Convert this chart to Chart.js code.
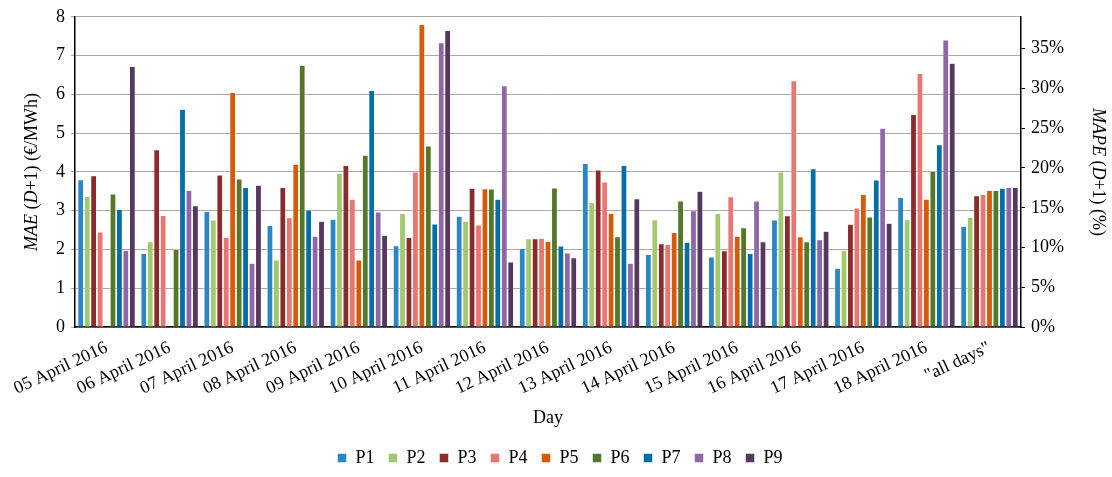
<!DOCTYPE html>
<html>
<head>
<meta charset="UTF-8">
<script src="https://cdn.jsdelivr.net/npm/chart.js"></script>
<style>
  body { margin: 0; background: #fff; }
  #wrap { width: 1112px; height: 477px; }
</style>
</head>
<body>
<div id="wrap"><canvas id="c"></canvas></div>
<script>
const days = ['05 April 2016','06 April 2016','07 April 2016','08 April 2016','09 April 2016','10 April 2016','11 April 2016','12 April 2016','13 April 2016','14 April 2016','15 April 2016','16 April 2016','17 April 2016','18 April 2016','"all days"'];
const P1 = [3.8,1.9,2.98,2.62,2.78,2.1,2.86,2.03,4.22,1.87,1.81,2.76,1.52,3.34,2.6];
const P2 = [3.37,2.2,2.76,1.73,3.97,2.93,2.73,2.28,3.21,2.77,2.93,4.0,1.98,2.77,2.83];
const P3 = [3.9,4.57,3.92,3.6,4.17,2.31,3.58,2.28,4.05,2.15,1.97,2.87,2.65,5.48,3.39];
const P4 = [2.45,2.88,2.32,2.82,3.3,4.0,2.63,2.29,3.74,2.13,3.36,6.35,3.07,6.54,3.42];
const P5 = [0,0,6.05,4.2,1.73,7.8,3.57,2.21,2.93,2.44,2.34,2.33,3.42,3.3,3.52];
const P6 = [3.43,2.0,3.82,6.75,4.43,4.67,3.56,3.59,2.33,3.25,2.56,2.2,2.84,4.02,3.52];
const P7 = [3.03,5.62,3.6,3.02,6.1,2.66,3.3,2.09,4.17,2.19,1.9,4.08,3.79,4.7,3.58];
const P8 = [1.98,3.52,1.65,2.34,2.97,7.33,6.22,1.91,1.65,3.0,3.25,2.25,5.13,7.4,3.6];
const P9 = [6.72,3.13,3.66,2.73,2.37,7.65,1.68,1.79,3.31,3.5,2.2,2.47,2.68,6.8,3.6];
const seriesNames = ['P1','P2','P3','P4','P5','P6','P7','P8','P9'];
const seriesData = [P1,P2,P3,P4,P5,P6,P7,P8,P9];
const colors = ['#2a86c4','#a3c96e','#8b2b2b','#ea7673','#d55b0a','#53782a','#056ea6','#8f67a8','#55385f'];

const serif = '"Liberation Serif", "DejaVu Serif", serif';

// axis titles with italic parts
const titles = {
  id: 'titles',
  afterDraw(chart) {
    const ctx = chart.ctx, a = chart.chartArea;
    function mixed(parts, x, y, rot) {
      ctx.save();
      ctx.translate(x, y); ctx.rotate(rot);
      let w = 0;
      parts.forEach(p => { ctx.font = (p[1] ? 'italic ' : '') + '18px ' + serif; w += ctx.measureText(p[0]).width; });
      let cx = -w / 2;
      ctx.fillStyle = '#000'; ctx.textBaseline = 'middle';
      parts.forEach(p => { ctx.font = (p[1] ? 'italic ' : '') + '18px ' + serif; ctx.fillText(p[0], cx, 0); cx += ctx.measureText(p[0]).width; });
      ctx.restore();
    }
    const mid = (a.top + a.bottom) / 2;
    mixed([['MAE',1],[' (',0],['D',1],['+1) (€/MWh)',0]], 32, mid, -Math.PI/2);
    mixed([['MAPE',1],[' (',0],['D',1],['+1) (%)',0]], 1098, mid, Math.PI/2);
  }
};

new Chart(document.getElementById('c'), {
  type: 'bar',
  data: {
    labels: days,
    datasets: seriesNames.map((n, i) => ({
      label: n, data: seriesData[i], backgroundColor: colors[i],
      borderColor: '#fff', borderWidth: 0.5,
      barPercentage: 0.9, categoryPercentage: 0.92
    }))
  },
  options: {
    responsive: true, maintainAspectRatio: false, animation: false,
    layout: { padding: { left: 50, right: 42, top: 6, bottom: 0 } },
    scales: {
      x: {
        grid: { display: false },
        border: { color: '#000', width: 1.5 },
        ticks: { color: '#000', maxRotation: 25, minRotation: 25, font: { family: serif, size: 18 }, padding: 2 },
        title: { display: true, text: 'Day', color: '#000', font: { family: serif, size: 18 }, padding: { top: 6, bottom: 6 } }
      },
      y: {
        min: 0, max: 8,
        ticks: { stepSize: 1, color: '#000', font: { family: serif, size: 18 }, padding: 6 },
        grid: { color: '#aaa', tickLength: 4 },
        border: { color: '#000', width: 1.5 }
      },
      y2: {
        position: 'right', min: 0, max: 39,
        ticks: { stepSize: 5, color: '#000', font: { family: serif, size: 18 }, callback: v => v + '%', padding: 6 },
        grid: { drawOnChartArea: false, tickLength: 4, color: '#000' },
        border: { color: '#000', width: 1.5 },
        afterBuildTicks: s => { s.ticks = [0,5,10,15,20,25,30,35].map(v => ({ value: v })); }
      }
    },
    plugins: {
      legend: {
        position: 'bottom',
        labels: { color: '#000', boxWidth: 9, boxHeight: 9, padding: 14, font: { family: serif, size: 18 } }
      },
      tooltip: { enabled: false }
    }
  },
  plugins: [titles]
});
</script>
</body>
</html>
